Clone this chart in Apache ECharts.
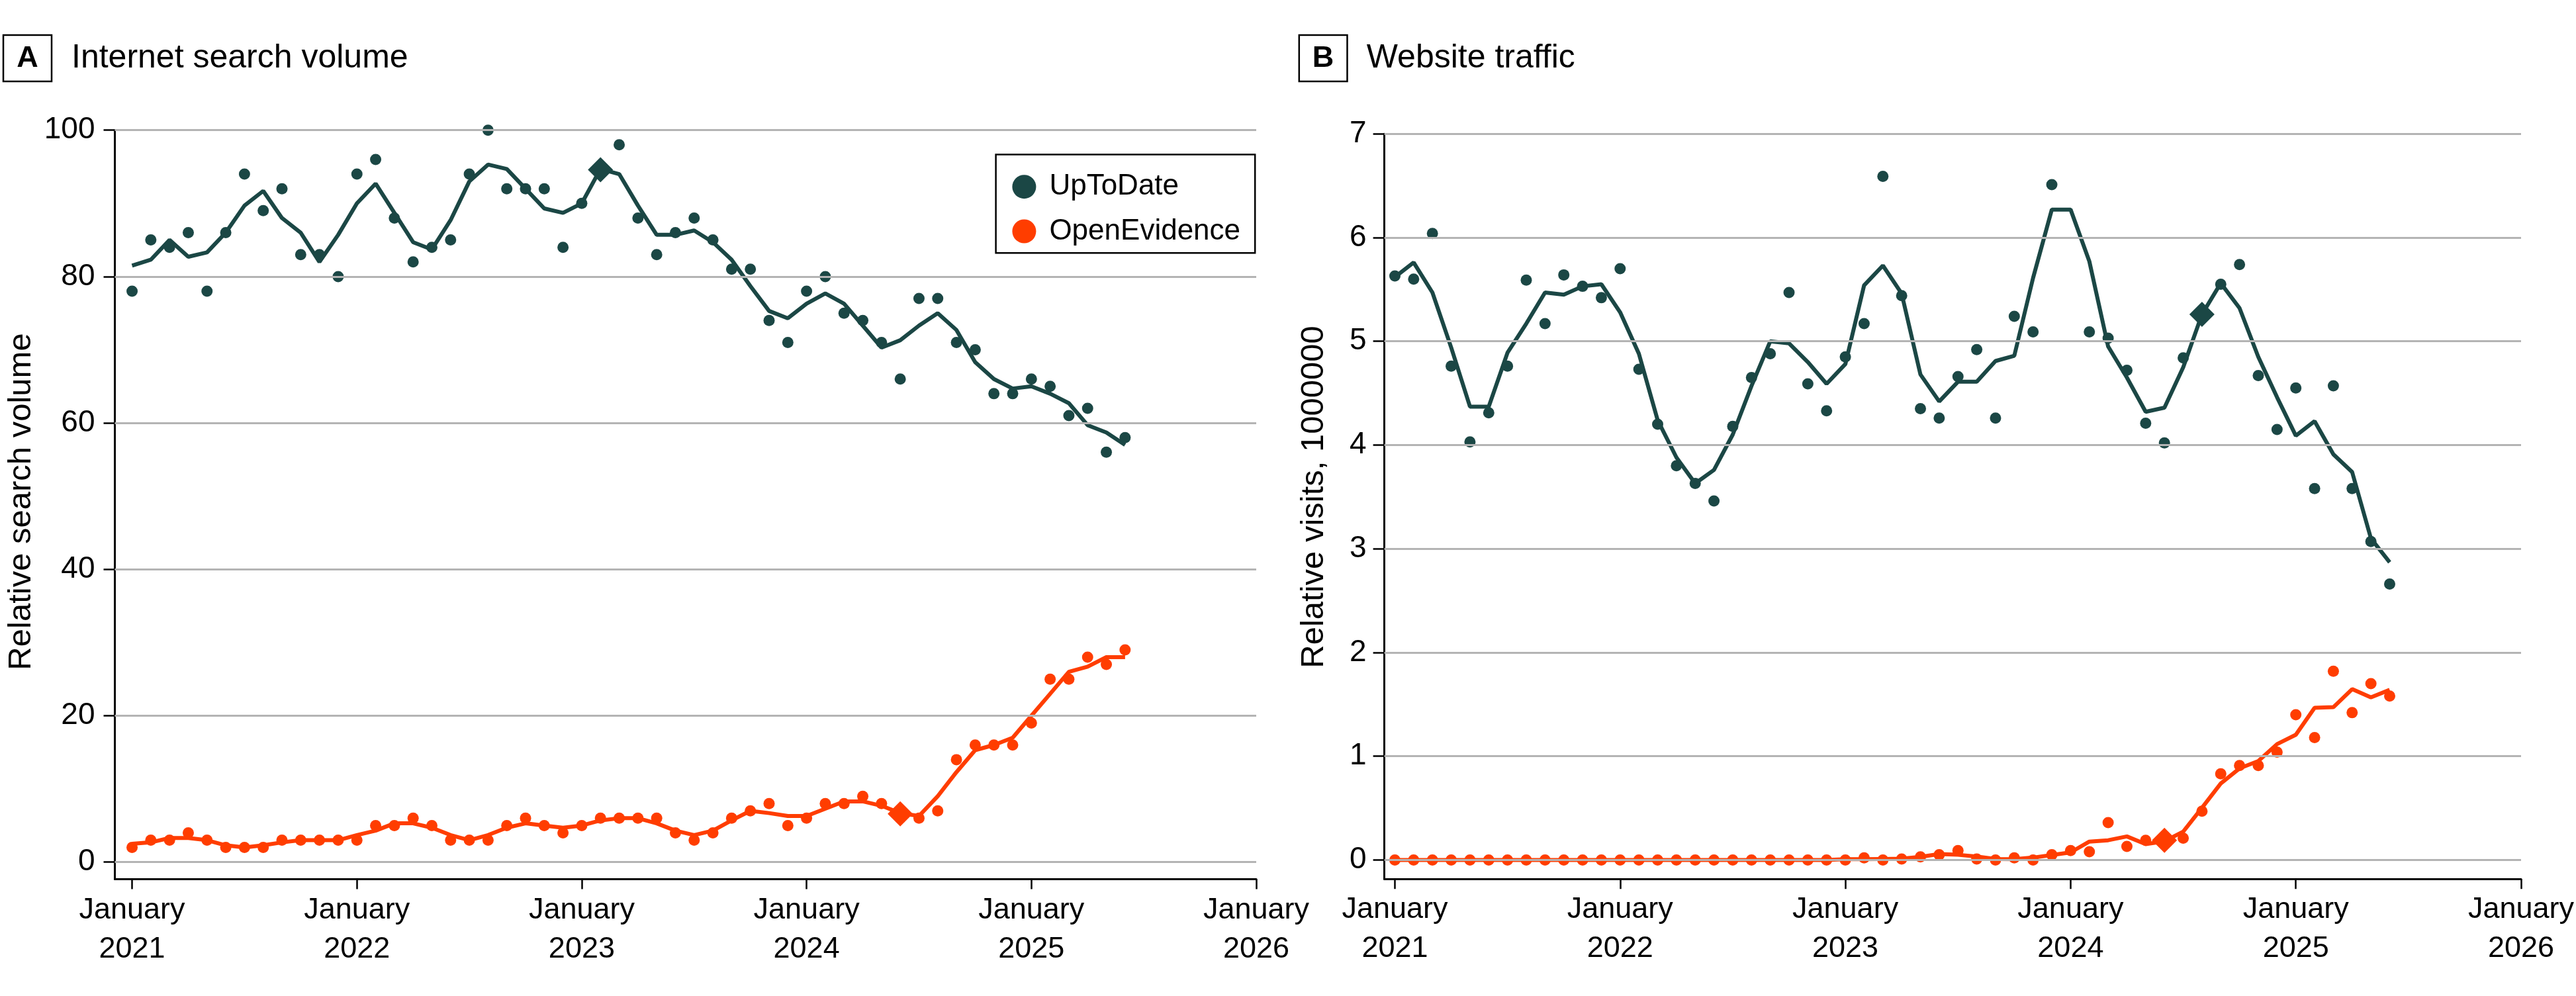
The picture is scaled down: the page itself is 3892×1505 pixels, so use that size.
<!DOCTYPE html>
<html lang="en">
<head>
    <meta charset="utf-8">
    <title>UpToDate vs OpenEvidence</title>
    <style>
        html, body {
            margin: 0;
            padding: 0;
            background: #fff;
        }

        #chart {
            width: 3892px;
            height: 1505px;
        }
    </style>
</head>
<body>
<div id="chart"></div>

<script src="https://cdn.jsdelivr.net/npm/echarts@6/dist/echarts.min.js"></script>
<script>
    // months counted from January 2021 (0 = Jan 2021 ... 53 = Jun 2025)
    let monthIndex = [0, 1, 2, 3, 4, 5, 6, 7, 8, 9, 10, 11, 12, 13, 14, 15, 16, 17, 18, 19, 20, 21, 22, 23, 24, 25, 26,
        27, 28, 29, 30, 31, 32, 33, 34, 35, 36, 37, 38, 39, 40, 41, 42, 43, 44, 45, 46, 47, 48, 49, 50, 51, 52, 53];

    // x axis ticks (January of each year)
    let yearTicks = [0, 12, 24, 36, 48, 60];
    let yearLabels = ['January\n2021', 'January\n2022', 'January\n2023', 'January\n2024', 'January\n2025', 'January\n2026'];

    // A: internet search volume
    let searchTicks = [0, 20, 40, 60, 80, 100];
    let searchUpToDate = [78, 85, 84, 86, 78, 86, 94, 89, 92, 83, 83, 80, 94, 96, 88, 82, 84, 85, 94, 100, 92, 92, 92, 84,
        90, 95, 98, 88, 83, 86, 88, 85, 81, 81, 74, 71, 78, 80, 75, 74, 71, 66, 77, 77, 71, 70, 64, 64, 66, 65, 61, 62, 56, 58];
    let searchUpToDateTrend = [81.5, 82.3, 85.0, 82.7, 83.3, 86.0, 89.7, 91.7, 88.0, 86.0, 82.0, 85.7, 90.0, 92.7, 88.7,
        84.7, 83.7, 87.7, 93.0, 95.3, 94.7, 92.0, 89.3, 88.7, 90.0, 94.7, 94.0, 89.7, 85.7, 85.7, 86.3, 84.7, 82.3, 78.7,
        75.3, 74.3, 76.3, 77.7, 76.3, 73.3, 70.3, 71.3, 73.3, 75.0, 72.7, 68.3, 66.0, 64.7, 65.0, 64.0, 62.7, 59.7, 58.7, 57.0];
    let searchOpenEvidence = [2, 3, 3, 4, 3, 2, 2, 2, 3, 3, 3, 3, 3, 5, 5, 6, 5, 3, 3, 3, 5, 6, 5, 4, 5, 6, 6, 6, 6, 4, 3,
        4, 6, 7, 8, 5, 6, 8, 8, 9, 8, 6, 6, 7, 14, 16, 16, 16, 19, 25, 25, 28, 27, 29];
    let searchOpenEvidenceTrend = [2.5, 2.7, 3.3, 3.3, 3.0, 2.3, 2.0, 2.3, 2.7, 3.0, 3.0, 3.0, 3.7, 4.3, 5.3, 5.3, 4.7,
        3.7, 3.0, 3.7, 4.7, 5.3, 5.0, 4.7, 5.0, 5.7, 6.0, 6.0, 5.3, 4.3, 3.7, 4.3, 5.7, 7.0, 6.7, 6.3, 6.3, 7.3, 8.3, 8.3,
        7.7, 6.7, 6.3, 9.0, 12.3, 15.3, 16.0, 17.0, 20.0, 23.0, 26.0, 26.7, 28.0, 28.0];
    let searchMarkUpToDate = [25, 94.6];
    let searchMarkOpenEvidence = [41, 6.6];

    // B: website traffic (relative visits, 1000000)
    let visitTicks = [0, 1, 2, 3, 4, 5, 6, 7];
    let visitsUpToDate = [5.63, 5.60, 6.04, 4.76, 4.03, 4.31, 4.76, 5.59, 5.17, 5.64, 5.53, 5.42, 5.70, 4.73, 4.20, 3.80,
        3.63, 3.46, 4.18, 4.65, 4.88, 5.47, 4.59, 4.33, 4.85, 5.17, 6.59, 5.44, 4.35, 4.26, 4.66, 4.92, 4.26, 5.24, 5.09,
        6.51, 7.20, 5.09, 5.03, 4.72, 4.21, 4.02, 4.84, 5.28, 5.55, 5.74, 4.67, 4.15, 4.55, 3.58, 4.57, 3.58, 3.07, 2.66];
    let visitsUpToDateTrend = [5.62, 5.76, 5.47, 4.94, 4.37, 4.37, 4.89, 5.17, 5.47, 5.45, 5.53, 5.55, 5.28, 4.88, 4.24,
        3.88, 3.63, 3.76, 4.10, 4.57, 5.00, 4.98, 4.80, 4.59, 4.78, 5.54, 5.73, 5.46, 4.68, 4.42, 4.61, 4.61, 4.81, 4.86,
        5.61, 6.27, 6.27, 5.77, 4.95, 4.65, 4.32, 4.36, 4.75, 5.26, 5.56, 5.32, 4.85, 4.46, 4.09, 4.23, 3.91, 3.74, 3.10, 2.87];
    let visitsOpenEvidence = [0, 0, 0, 0, 0, 0, 0, 0, 0, 0, 0, 0, 0, 0, 0, 0, 0, 0, 0, 0, 0, 0, 0, 0,
        0, 0.02, 0, 0.01, 0.03, 0.05, 0.09, 0.01, 0, 0.02, 0, 0.05, 0.09, 0.08, 0.36, 0.13, 0.19, 0.17, 0.21, 0.47, 0.83,
        0.91, 0.91, 1.04, 1.40, 1.18, 1.82, 1.42, 1.70, 1.58];
    let visitsOpenEvidenceTrend = [0, 0, 0, 0, 0, 0, 0, 0, 0, 0, 0, 0, 0, 0, 0, 0, 0, 0, 0, 0, 0, 0, 0, 0,
        0.007, 0.007, 0.01, 0.013, 0.03, 0.057, 0.05, 0.033, 0.01, 0.007, 0.023, 0.047, 0.073, 0.177, 0.19, 0.227, 0.153,
        0.18, 0.273, 0.503, 0.737, 0.883, 0.953, 1.117, 1.207, 1.467, 1.473, 1.647, 1.567, 1.64];
    let visitsMarkUpToDate = [43, 5.26];
    let visitsMarkOpenEvidence = [41, 0.19];

    const FONT = "'Liberation Sans', Arial, sans-serif";
    const TEAL = '#1b4745';
    const ORANGE = '#ff3d00';
    const GRID_GRAY = '#b4b4b4';

    function pairs(values) {
        return values.map(function (v, i) {
            return [monthIndex[i], v];
        });
    }

    function xAxisFor(gridIndex, min) {
        return {
            type: 'value',
            gridIndex: gridIndex,
            min: min,
            max: 60,
            axisLine: {show: true, onZero: false, lineStyle: {color: '#000', width: 3}},
            axisTick: {show: true, length: 15, customValues: yearTicks, lineStyle: {color: '#000', width: 2.5}},
            axisLabel: {
                customValues: yearTicks,
                formatter: function (v) {
                    let i = yearTicks.indexOf(Math.round(v));
                    return i >= 0 ? yearLabels[i] : '';
                },
                fontFamily: FONT,
                fontSize: 45,
                lineHeight: 59,
                color: '#000',
                margin: 17
            },
            splitLine: {show: false}
        };
    }

    function yAxisFor(gridIndex, min, max, ticks, margin) {
        return {
            type: 'value',
            gridIndex: gridIndex,
            min: min,
            max: max,
            axisLine: {show: true, onZero: false, lineStyle: {color: '#000', width: 3}},
            axisTick: {show: true, length: 17, customValues: ticks, lineStyle: {color: '#000', width: 2.5}},
            axisLabel: {customValues: ticks, fontFamily: FONT, fontSize: 46, color: '#000', margin: margin},
            splitLine: {show: false}
        };
    }

    // gridlines are drawn as mark lines on an invisible helper series
    function gridHelper(axisIndex, data, ticks) {
        return {
            name: 'grid' + axisIndex,
            type: 'line',
            xAxisIndex: axisIndex,
            yAxisIndex: axisIndex,
            data: pairs(data),
            showSymbol: false,
            lineStyle: {opacity: 0},
            silent: true,
            z: 1,
            markLine: {
                silent: true,
                symbol: ['none', 'none'],
                label: {show: false},
                lineStyle: {color: GRID_GRAY, width: 3, type: 'solid'},
                emphasis: {disabled: true},
                data: ticks.map(function (t) {
                    return {yAxis: t};
                })
            }
        };
    }

    function trendLine(name, axisIndex, data, color) {
        return {
            name: name,
            type: 'line',
            xAxisIndex: axisIndex,
            yAxisIndex: axisIndex,
            data: pairs(data),
            showSymbol: false,
            lineStyle: {color: color, width: 6},
            emphasis: {disabled: true},
            z: 2
        };
    }

    function dots(name, axisIndex, data, color) {
        return {
            name: name,
            type: 'scatter',
            xAxisIndex: axisIndex,
            yAxisIndex: axisIndex,
            data: pairs(data),
            symbol: 'circle',
            symbolSize: 17,
            itemStyle: {color: color, opacity: 1},
            emphasis: {disabled: true},
            z: 3
        };
    }

    function diamond(name, axisIndex, point, color) {
        return {
            name: name,
            type: 'scatter',
            xAxisIndex: axisIndex,
            yAxisIndex: axisIndex,
            data: [point],
            symbol: 'diamond',
            symbolSize: 38,
            itemStyle: {color: color, opacity: 1},
            emphasis: {disabled: true},
            z: 4
        };
    }

    let chart = echarts.init(document.getElementById('chart'), null, {renderer: 'canvas'});

    let option = {
        animation: false,
        backgroundColor: '#fff',
        grid: [
            {left: 173.5, top: 196.7, width: 1724.5, height: 1131.9, containLabel: false, outerBoundsMode: 'none'},
            {left: 2091.6, top: 202.2, width: 1717.4, height: 1126.1, containLabel: false, outerBoundsMode: 'none'}
        ],
        xAxis: [xAxisFor(0, -0.92), xAxisFor(1, -0.56)],
        yAxis: [yAxisFor(0, -2.34, 100, searchTicks, 30), yAxisFor(1, -0.184, 7, visitTicks, 27)],
        legend: {
            data: [{name: 'UpToDate', icon: 'circle'}, {name: 'OpenEvidence', icon: 'circle'}],
            orient: 'vertical',
            left: 1529.4,
            top: 260.2,
            padding: 0,
            itemWidth: 36,
            itemHeight: 36,
            itemGap: 23.3,
            selectedMode: false,
            textStyle: {fontFamily: FONT, fontSize: 44, color: '#000', padding: [0, 0, 0, 15]}
        },
        graphic: [
            // legend frame
            {type: 'rect', shape: {x: 1504.6, y: 233.4, width: 391.6, height: 148.9}, style: {fill: 'none', stroke: '#000', lineWidth: 2.5}, silent: true},
            // panel A heading
            {type: 'rect', shape: {x: 5, y: 53, width: 73, height: 70}, style: {fill: 'none', stroke: '#000', lineWidth: 2.5}, silent: true},
            {type: 'text', x: 41.5, y: 88.5, style: {text: 'A', font: 'bold 45px ' + FONT, fill: '#000', align: 'center', verticalAlign: 'middle', textAlign: 'center', textVerticalAlign: 'middle'}},
            {type: 'text', x: 108, y: 88.5, style: {text: 'Internet search volume', font: '50px ' + FONT, fill: '#000', align: 'left', verticalAlign: 'middle', textAlign: 'left', textVerticalAlign: 'middle'}},
            // panel B heading
            {type: 'rect', shape: {x: 1962.8, y: 53, width: 72.7, height: 70}, style: {fill: 'none', stroke: '#000', lineWidth: 2.5}, silent: true},
            {type: 'text', x: 1999, y: 88.5, style: {text: 'B', font: 'bold 45px ' + FONT, fill: '#000', align: 'center', verticalAlign: 'middle', textAlign: 'center', textVerticalAlign: 'middle'}},
            {type: 'text', x: 2064.8, y: 88.5, style: {text: 'Website traffic', font: '50px ' + FONT, fill: '#000', align: 'left', verticalAlign: 'middle', textAlign: 'left', textVerticalAlign: 'middle'}},
            // y axis titles
            {type: 'text', x: 32, y: 758, rotation: Math.PI / 2, style: {text: 'Relative search volume', font: '49px ' + FONT, fill: '#000', align: 'center', verticalAlign: 'middle', textAlign: 'center', textVerticalAlign: 'middle'}},
            {type: 'text', x: 1985, y: 751, rotation: Math.PI / 2, style: {text: 'Relative visits, 1000000', font: '49px ' + FONT, fill: '#000', align: 'center', verticalAlign: 'middle', textAlign: 'center', textVerticalAlign: 'middle'}}
        ],
        series: [
            gridHelper(0, searchUpToDate, searchTicks),
            trendLine('UpToDate trend', 0, searchUpToDateTrend, TEAL),
            trendLine('OpenEvidence trend', 0, searchOpenEvidenceTrend, ORANGE),
            dots('UpToDate', 0, searchUpToDate, TEAL),
            dots('OpenEvidence', 0, searchOpenEvidence, ORANGE),
            diamond('UpToDate marker', 0, searchMarkUpToDate, TEAL),
            diamond('OpenEvidence marker', 0, searchMarkOpenEvidence, ORANGE),

            gridHelper(1, visitsUpToDate, visitTicks),
            trendLine('UpToDate trend', 1, visitsUpToDateTrend, TEAL),
            trendLine('OpenEvidence trend', 1, visitsOpenEvidenceTrend, ORANGE),
            dots('UpToDate', 1, visitsUpToDate, TEAL),
            dots('OpenEvidence', 1, visitsOpenEvidence, ORANGE),
            diamond('UpToDate marker', 1, visitsMarkUpToDate, TEAL),
            diamond('OpenEvidence marker', 1, visitsMarkOpenEvidence, ORANGE)
        ]
    };

    chart.setOption(option);

    window.onresize = function () {
        chart.resize();
    };
</script>
</body>
</html>
